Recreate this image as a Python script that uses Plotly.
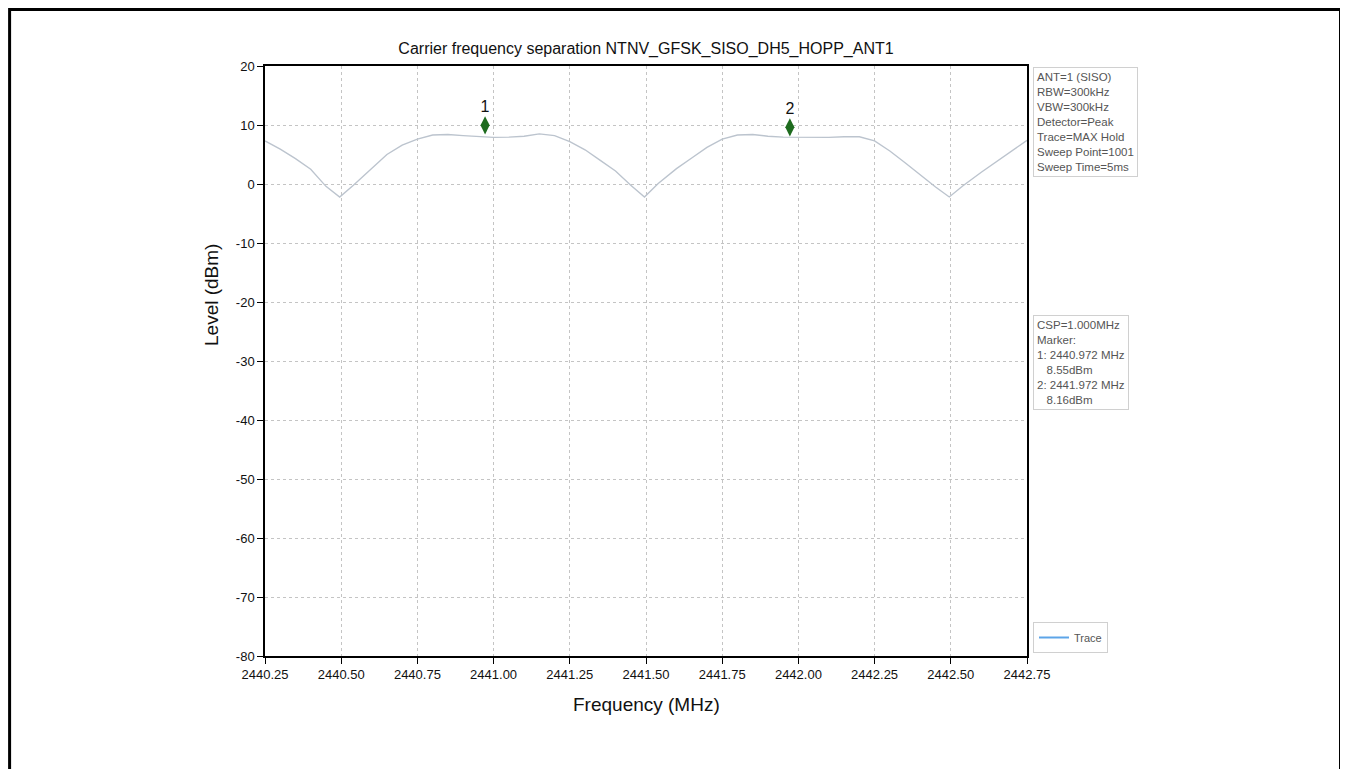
import plotly.graph_objects as go

# ---------------- data ----------------
freq_mhz = [2440.25, 2440.30, 2440.35, 2440.40, 2440.45, 2440.495, 2440.54, 2440.60, 2440.65, 2440.70,
            2440.75, 2440.80, 2440.85, 2440.90, 2440.95, 2441.00, 2441.05, 2441.10, 2441.15, 2441.20,
            2441.25, 2441.30, 2441.35, 2441.40, 2441.45, 2441.495, 2441.54, 2441.60, 2441.65, 2441.70,
            2441.75, 2441.80, 2441.85, 2441.90, 2441.95, 2442.00, 2442.05, 2442.10, 2442.15, 2442.20,
            2442.25, 2442.30, 2442.35, 2442.40, 2442.45, 2442.495, 2442.54, 2442.60, 2442.65, 2442.70,
            2442.75]
level_dbm = [7.3, 5.9, 4.3, 2.5, -0.4, -2.2, -0.2, 2.6, 5.0, 6.6,
             7.6, 8.3, 8.4, 8.2, 8.0, 7.9, 7.95, 8.1, 8.5, 8.2,
             7.2, 5.8, 4.0, 2.2, -0.2, -2.2, 0.1, 2.6, 4.4, 6.2,
             7.6, 8.3, 8.4, 8.1, 7.95, 7.9, 7.9, 7.9, 8.0, 8.0,
             7.3, 5.6, 3.6, 1.5, -0.5, -2.2, -0.3, 2.0, 3.8, 5.6,
             7.4]

marker_labels = ["1", "2"]
marker_freq = [2440.972, 2441.972]
marker_level = [8.55, 8.16]
marker_plot_y = [9.95, 9.6]   # where the diamonds are drawn in the picture

x_ticks = [2440.25, 2440.50, 2440.75, 2441.00, 2441.25, 2441.50, 2441.75, 2442.00, 2442.25, 2442.50, 2442.75]
x_tick_text = ["2440.25", "2440.50", "2440.75", "2441.00", "2441.25", "2441.50",
               "2441.75", "2442.00", "2442.25", "2442.50", "2442.75"]
y_ticks = [20, 10, 0, -10, -20, -30, -40, -50, -60, -70, -80]
y_tick_text = ["20", "10", "0", "-10", "-20", "-30", "-40", "-50", "-60", "-70", "-80"]

title_text = "Carrier frequency separation NTNV_GFSK_SISO_DH5_HOPP_ANT1"
settings_lines = ["ANT=1 (SISO)", "RBW=300kHz", "VBW=300kHz", "Detector=Peak",
                  "Trace=MAX Hold", "Sweep Point=1001", "Sweep Time=5ms"]
csp_text = "CSP=1.000MHz"

# ---------------- figure ----------------
FONT = "Arial, Liberation Sans, sans-serif"
OFF = 8  # browser body margin
fig = go.Figure()

fig.add_trace(go.Scatter(x=freq_mhz, y=level_dbm, mode="lines",
                         line=dict(color="#bcc4ce", width=1.4),
                         showlegend=False, hoverinfo="x+y"))
# legend entry
fig.add_trace(go.Scatter(x=[None], y=[None], mode="lines", name="Trace",
                         line=dict(color="#5da5e8", width=2), showlegend=True))

fig.add_trace(go.Scatter(x=marker_freq, y=marker_plot_y, mode="markers+text",
                         text=marker_labels, textposition="top center",
                         textfont=dict(family=FONT, size=16, color="#111111"),
                         marker=dict(symbol="diamond-tall", size=13, color="#1e6b1e",
                                     line=dict(color="#1e6b1e", width=0)),
                         showlegend=False))

marker_lines = [csp_text, "Marker:"]
for lab, f, l in zip(marker_labels, marker_freq, marker_level):
    marker_lines.append(f"{lab}: {f:.3f} MHz")
    marker_lines.append(f"\u00a0\u00a0\u00a0{l:.2f}dBm")

# plot area in reference-picture pixels
PL, PR, PT, PB = 265, 1027, 66, 656
W, H = 1340, 761
L, T = PL - OFF, PT - OFF
R, B = W - (PR - OFF), H - (PB - OFF)
pw, ph = PR - PL, PB - PT

def px(xp):
    return (xp - PL) / pw

def py(yp):
    return (PB - yp) / ph

annotations = [
    dict(text="<br>".join(settings_lines), xref="paper", yref="paper",
         x=px(1033), y=py(67), xanchor="left", yanchor="top", showarrow=False,
         align="left", font=dict(family=FONT, size=11.5, color="#555555"),
         bordercolor="#d0d0d0", borderwidth=1, bgcolor="white", borderpad=3),
    dict(text="<br>".join(marker_lines), xref="paper", yref="paper",
         x=px(1033), y=py(315), xanchor="left", yanchor="top", showarrow=False,
         align="left", font=dict(family=FONT, size=11.5, color="#555555"),
         bordercolor="#d0d0d0", borderwidth=1, bgcolor="white", borderpad=3),
    dict(text="Frequency (MHz)", xref="paper", yref="paper", x=0.5, y=py(704),
         xanchor="center", yanchor="middle", showarrow=False,
         font=dict(family=FONT, size=19, color="#111111")),
    dict(text="Level (dBm)", xref="paper", yref="paper", x=px(211), y=py(295),
         xanchor="center", yanchor="middle", showarrow=False, textangle=-90,
         font=dict(family=FONT, size=19, color="#111111")),
]

shapes = [
    dict(type="rect", xref="paper", yref="paper", x0=px(9.6), x1=px(1340.5), y0=py(800), y1=py(9.6),
         line=dict(color="black", width=3), fillcolor="rgba(0,0,0,0)"),
]

fig.update_layout(
    width=W, height=H,
    margin=dict(l=L, r=R, t=T, b=B),
    paper_bgcolor="white", plot_bgcolor="white",
    title=dict(text=title_text, x=(646 - OFF) / W, y=1 - (48 - OFF) / H,
               xanchor="center", yanchor="middle",
               font=dict(family=FONT, size=16, color="#111111")),
    font=dict(family=FONT, color="#111111"),
    annotations=annotations, shapes=shapes,
    legend=dict(x=px(1033), y=py(653), xanchor="left", yanchor="bottom",
                bordercolor="#d0d0d0", borderwidth=1, bgcolor="white",
                font=dict(family=FONT, size=11, color="#555555"),
                itemwidth=30, tracegroupgap=0),
)

fig.update_xaxes(range=[2440.25, 2442.75], tickvals=x_ticks, ticktext=x_tick_text,
                 showgrid=True, gridcolor="#c4c4c4", griddash="dot", gridwidth=1,
                 showline=True, linecolor="black", linewidth=1.5, mirror=True,
                 ticks="outside", ticklen=6, tickcolor="black",
                 tickfont=dict(family=FONT, size=13, color="#111111"), zeroline=False)
fig.update_yaxes(range=[-80, 20], tickvals=y_ticks, ticktext=y_tick_text,
                 showgrid=True, gridcolor="#c4c4c4", griddash="dot", gridwidth=1,
                 showline=True, linecolor="black", linewidth=1.5, mirror=True,
                 ticks="outside", ticklen=6, tickcolor="black",
                 tickfont=dict(family=FONT, size=13, color="#111111"), zeroline=False)

fig.write_html("out.html")
